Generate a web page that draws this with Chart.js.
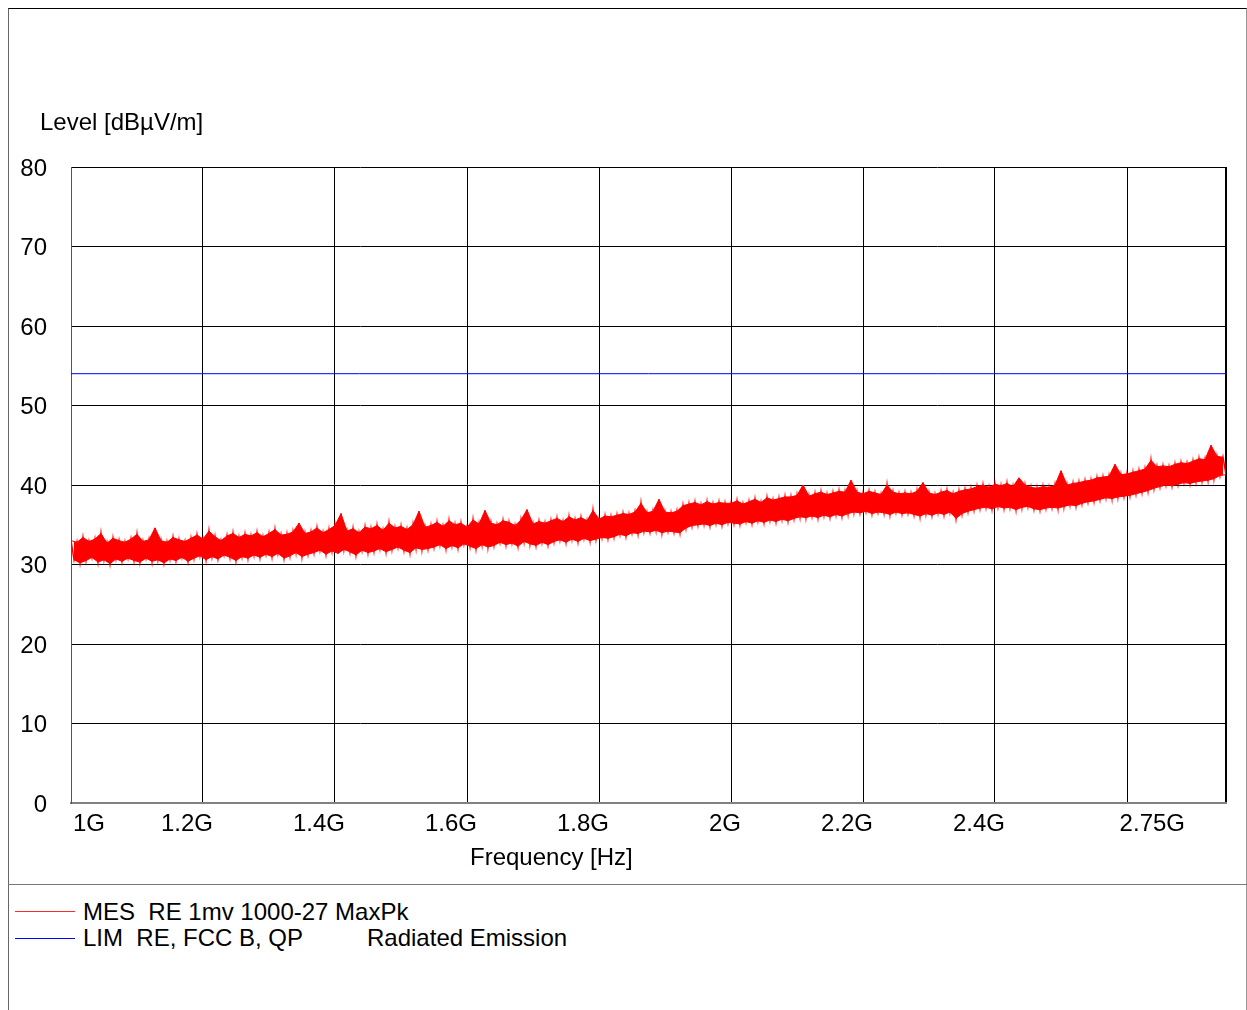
<!DOCTYPE html>
<html>
<head>
<meta charset="utf-8">
<script src="https://cdn.jsdelivr.net/npm/chart.js@4.4.1/dist/chart.umd.min.js"></script>
<style>
  body { margin: 0; background: #fff; width: 1247px; height: 1010px; overflow: hidden; position: relative;
         font-family: "Liberation Sans", Arial, sans-serif; color: #000; }
  .abs { position: absolute; font-size: 24px; line-height: 24px; white-space: pre; }
  #frame { position: absolute; left: 8px; top: 8px; width: 1239px; height: 1010px; box-sizing: border-box;
           border-left: 1px solid #666; border-top: 1px solid #000; border-right: 1px solid #999; }
  #sep { position: absolute; left: 8px; top: 884px; width: 1239px; height: 1px; background: #777; }
  .swatch { position: absolute; left: 15px; width: 60px; height: 1px; }
  #grafico { position: absolute; left: 0; top: 0; }
</style>
</head>
<body>
<div id="frame"></div>
<div id="sep"></div>
<canvas id="grafico" width="1247" height="884"></canvas>
<div class="abs" style="left:40px; top:110px;">Level [dBµV/m]</div>
<div class="abs" style="left:470px; top:845px;">Frequency [Hz]</div>
<div class="swatch" style="top:911px; background:#ff2a2a;"></div>
<div class="swatch" style="top:938px; background:#0000ff;"></div>
<div class="abs" style="left:83px; top:900px;">MES  RE 1mv 1000-27 MaxPk</div>
<div class="abs" style="left:83px; top:926px;">LIM  RE, FCC B, QP</div>
<div class="abs" style="left:367px; top:926px;">Radiated Emission</div>
<script>
// barrido de frecuencia (GHz)
const mesStart = 1;
const mesStop = 2.75;

const mesLevel = [
  33.0,30.6, 32.8,30.2, 33.4,30.5, 32.9,30.9, 33.2,30.3, 33.9,30.6, 32.7,30.1, 33.3,30.7, 33.0,30.4, 32.8,30.8,
  33.2,30.5, 33.8,30.3, 32.9,30.8, 33.1,30.4, 34.6,30.6, 33.0,30.2, 32.8,30.7, 33.4,30.5, 33.1,30.9, 32.9,30.4,
  33.3,30.8, 33.7,31.1, 33.2,30.6, 34.2,31.0, 33.5,30.7, 33.0,31.2, 33.6,30.9, 33.9,30.5, 33.4,31.0, 33.8,30.8,
  33.6,31.2, 34.0,30.9, 33.5,31.3, 33.9,31.0, 34.4,31.4, 33.7,30.8, 33.8,31.1, 34.1,31.5, 35.2,31.0, 33.9,31.3,
  34.1,31.5, 34.6,31.8, 34.0,31.3, 34.4,31.7, 34.9,31.4, 36.4,31.9, 34.2,31.6, 34.5,31.2, 34.0,31.8, 34.7,31.5,
  34.5,31.7, 34.9,32.0, 34.3,31.6, 35.2,31.9, 34.6,32.2, 34.8,31.8, 34.4,31.5, 35.0,32.1, 36.7,31.9, 34.7,32.0,
  34.9,32.2, 35.3,32.5, 34.8,32.0, 35.5,32.4, 35.0,32.1, 35.2,32.6, 34.7,32.3, 35.6,32.0, 35.1,32.5, 36.8,32.2,
  35.2,32.4, 35.0,32.8, 35.5,32.5, 35.3,32.7, 34.9,32.3, 35.6,32.9, 36.9,32.6, 35.1,32.4, 35.4,32.8, 35.2,32.5,
  35.5,32.9, 35.8,33.1, 35.4,32.8, 36.0,33.2, 35.6,32.9, 35.9,33.3, 35.5,33.0, 36.8,33.2, 35.7,33.4, 36.1,33.3,
  36.0,33.5, 36.2,33.8, 36.4,33.6, 36.3,34.0, 36.6,33.9, 37.7,34.2, 36.5,34.1, 36.7,34.3, 38.2,34.0, 36.6,34.2,
  36.5,34.1, 36.7,34.0, 37.4,34.6, 37.6,34.9, 37.8,35.0, 37.5,35.1, 37.9,34.9, 37.6,35.2, 37.8,35.0, 37.7,35.3,
  37.7,35.2, 38.0,35.1, 37.6,35.4, 37.9,35.2, 38.2,35.5, 37.8,35.3, 38.4,35.6, 38.1,35.4, 38.3,35.7, 38.5,35.5,
  38.5,35.8, 38.7,36.0, 40.0,35.9, 38.6,36.1, 38.9,35.9, 39.1,36.2, 38.8,36.0, 39.0,36.3, 39.2,36.1, 39.1,36.4,
  40.6,36.6, 39.1,36.5, 38.9,36.7, 39.2,36.4, 39.0,36.6, 38.8,36.5, 40.0,36.3, 39.1,36.6, 38.9,36.4, 39.0,36.5,
  38.9,36.3, 39.2,36.1, 40.3,36.4, 39.0,36.2, 38.8,36.5, 39.1,36.3, 39.3,36.6, 38.9,35.8, 39.2,36.4, 39.4,36.7,
  39.5,36.9, 39.8,37.1, 40.0,37.2, 39.7,37.0, 40.1,37.3, 39.9,37.1, 40.2,37.2, 39.8,36.9, 40.9,37.2, 40.0,37.3,
  39.7,37.0, 39.6,36.9, 39.8,37.1, 39.7,37.2, 40.0,37.1, 41.8,37.3, 40.0,37.5, 40.2,37.4, 40.3,37.7, 40.5,37.9,
  40.6,38.0, 40.9,38.2, 41.0,38.4, 41.1,38.3, 42.6,38.5, 41.3,38.6, 41.4,38.7, 41.6,38.9, 41.8,39.1, 42.0,39.3,
  43.1,39.6, 42.3,39.8, 42.4,40.0, 42.3,39.9, 42.6,40.1, 42.8,40.3, 42.7,40.2, 43.0,40.4, 43.3,40.5, 43.2,40.6,
  45.0,40.8, 43.6,41.2, 43.5,41.3
];

// limite FCC B
const limFreq = [1, 2.75];
const limLevel = [54, 54];

// rejilla y etiquetas del eje X
const xGridValues = [1, 1.2, 1.4, 1.6, 1.8, 2, 2.2, 2.4, 2.6, 2.75];
const xLabelValues = [1, 1.2, 1.4, 1.6, 1.8, 2, 2.2, 2.4, 2.75];
const xLabelTexts = ['1G', '1.2G', '1.4G', '1.6G', '1.8G', '2G', '2.2G', '2.4G', '2.75G'];

const FUENTE = '"Liberation Sans", Arial, sans-serif';
const ROJO = '#ff0000';

/**
 * dibuja las etiquetas del eje de frecuencia
 */
const etiquetasX = {
    id: 'etiquetasX',
    afterDraw(chart) {
        const ctx = chart.ctx;
        const sx = chart.scales.x;
        const base = sx.top + 28;
        ctx.save();
        ctx.font = '24px ' + FUENTE;
        ctx.fillStyle = '#000';
        ctx.textBaseline = 'alphabetic';
        for (let i = 0; i < xLabelValues.length; i++) {
            let px = sx.getPixelForValue(xLabelValues[i]);
            if (i === 0) {
                ctx.textAlign = 'left';
                px += 2;
            } else if (i === xLabelValues.length - 1) {
                ctx.textAlign = 'right';
                px -= 41;
            } else {
                ctx.textAlign = 'right';
                px += 10;
            }
            ctx.fillText(xLabelTexts[i], px, base);
        }
        ctx.restore();
    }
};

const paso = (mesStop - mesStart) / (mesLevel.length - 1);
const datosMes = mesLevel.map((v, i) => ({ x: mesStart + i * paso, y: v }));
// envolventes del trazo (picos y valles) para rellenar la banda
const datosPicos = datosMes.filter((p, i) => i % 2 === 0);
const datosValles = datosMes.filter((p, i) => i % 2 === 1);
const datosLim = limFreq.map((f, i) => ({ x: f, y: limLevel[i] }));

new Chart(document.getElementById('grafico'), {
    type: 'line',
    data: {
        datasets: [
            {
                label: 'MES  RE 1mv 1000-27 MaxPk',
                data: datosMes,
                borderColor: ROJO,
                borderWidth: 1.5,
                pointRadius: 0,
                tension: 0
            },
            {
                label: 'picos',
                data: datosPicos,
                borderColor: ROJO,
                borderWidth: 1,
                pointRadius: 0,
                fill: false
            },
            {
                label: 'valles',
                data: datosValles,
                borderColor: ROJO,
                backgroundColor: ROJO,
                borderWidth: 1,
                pointRadius: 0,
                fill: 1
            },
            {
                label: 'LIM  RE, FCC B, QP',
                data: datosLim,
                borderColor: '#0000ff',
                borderWidth: 1,
                pointRadius: 0
            }
        ]
    },
    options: {
        responsive: false,
        animation: false,
        devicePixelRatio: 1,
        layout: { padding: { top: 167, right: 21, left: 0, bottom: 0 } },
        plugins: {
            legend: { display: false },
            tooltip: { enabled: false }
        },
        scales: {
            x: {
                type: 'linear',
                min: mesStart,
                max: mesStop,
                afterBuildTicks: (scale) => {
                    scale.ticks = xGridValues.map(v => ({ value: v }));
                },
                afterFit: (scale) => { scale.height = 81; },
                ticks: { display: false },
                grid: {
                    color: '#000',
                    lineWidth: (c) => (c.tick && c.tick.value === mesStop ? 2 : 1),
                    drawTicks: false
                },
                border: { color: '#808080', width: 2 }
            },
            y: {
                min: 0,
                max: 80,
                afterFit: (scale) => { scale.width = 71; },
                ticks: {
                    stepSize: 10,
                    padding: 24,
                    labelOffset: 2,
                    color: '#000',
                    font: { family: FUENTE, size: 24 }
                },
                grid: { color: '#000', lineWidth: 1, drawTicks: false },
                border: { color: '#555', width: 1 }
            }
        }
    },
    plugins: [etiquetasX]
});
</script>
</body>
</html>
